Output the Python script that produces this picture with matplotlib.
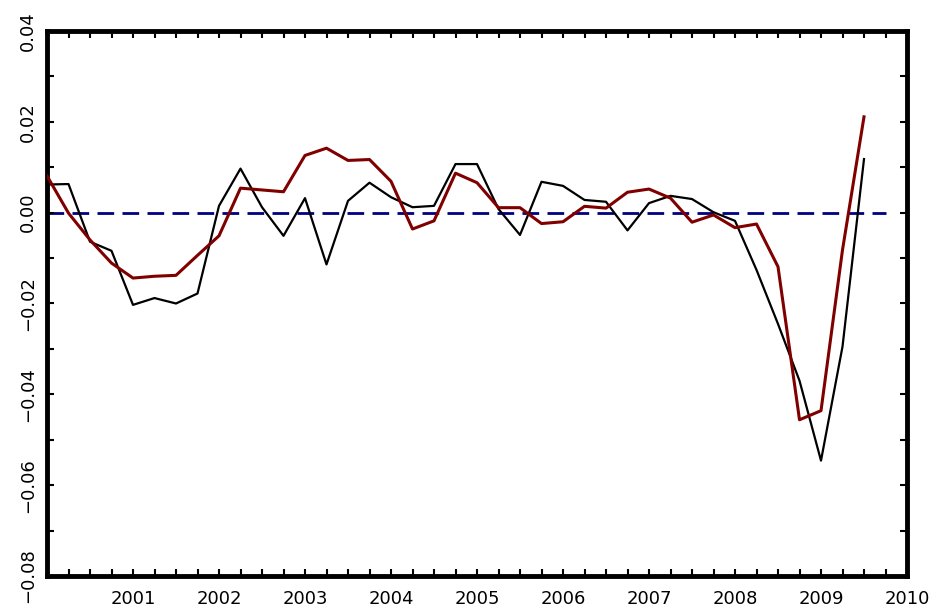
import numpy as np
import matplotlib
matplotlib.use('Agg')
import matplotlib.pyplot as plt

# Datos trimestrales 2000.0 - 2009.5
tiempo = 2000 + 0.25 * np.arange(39)

# Serie observada (negra)
observada = [0.0062, 0.0063, -0.0064, -0.0084, -0.0203, -0.0188, -0.0200, -0.0178,
             0.0015, 0.0097, 0.0012, -0.0051, 0.0032, -0.0114, 0.0026, 0.0066,
             0.0034, 0.0012, 0.0015, 0.0107, 0.0107, 0.0008, -0.0049, 0.0068,
             0.0059, 0.0028, 0.0024, -0.0039, 0.0021, 0.0037, 0.0030, 0.0001,
             -0.0018, -0.0126, -0.0245, -0.0370, -0.0546, -0.0295, 0.0118]

# Serie ajustada (roja)
ajustada = [0.0081, -0.0001, -0.0060, -0.0111, -0.0144, -0.0140, -0.0138, -0.0094,
            -0.0051, 0.0054, 0.0050, 0.0046, 0.0126, 0.0142, 0.0115, 0.0117,
            0.0069, -0.0036, -0.0018, 0.0087, 0.0066, 0.0011, 0.0011, -0.0024,
            -0.0020, 0.0014, 0.0010, 0.0045, 0.0052, 0.0032, -0.0021, -0.0005,
            -0.0033, -0.0025, -0.0119, -0.0456, -0.0436, -0.0082, 0.0211]

anios = list(range(2001, 2011))
y_ticks = [-0.08, -0.06, -0.04, -0.02, 0.00, 0.02, 0.04]

plt.rcParams['font.family'] = ['DejaVu Sans']

fig = plt.figure(figsize=(9.32, 6.08), dpi=100)
ax = fig.add_axes([47 / 932, 1 - 576 / 608, 860 / 932, 545 / 608])

# Linea de referencia en cero
ax.hlines(0, 2000, 2009.75, colors='#000080', linewidth=2,
          linestyles=(0, (6, 3)), zorder=1)

ax.plot(tiempo, observada, color='black', linewidth=1.6, zorder=2)
ax.plot(tiempo, ajustada, color='#800000', linewidth=2.2, zorder=3)

ax.set_xlim(2000, 2010)
ax.set_ylim(-0.08, 0.04)

ax.set_xticks(anios)
ax.set_xticks(np.arange(2000.25, 2010, 0.25), minor=True)
ax.set_yticks(y_ticks)
ax.set_yticks(np.arange(-0.07, 0.04, 0.02), minor=True)
ax.set_yticklabels([f'{v:.2f}'.replace('-', '\u2212') for v in y_ticks],
                   rotation=90, va='center')

ax.tick_params(which='both', direction='in', top=True, right=True,
               length=5, width=1.5, labelsize=13)
ax.tick_params(axis='x', pad=10)
ax.tick_params(axis='y', pad=7)

for s in ax.spines.values():
    s.set_linewidth(3.5)

fig.savefig('out.png', dpi=100)
